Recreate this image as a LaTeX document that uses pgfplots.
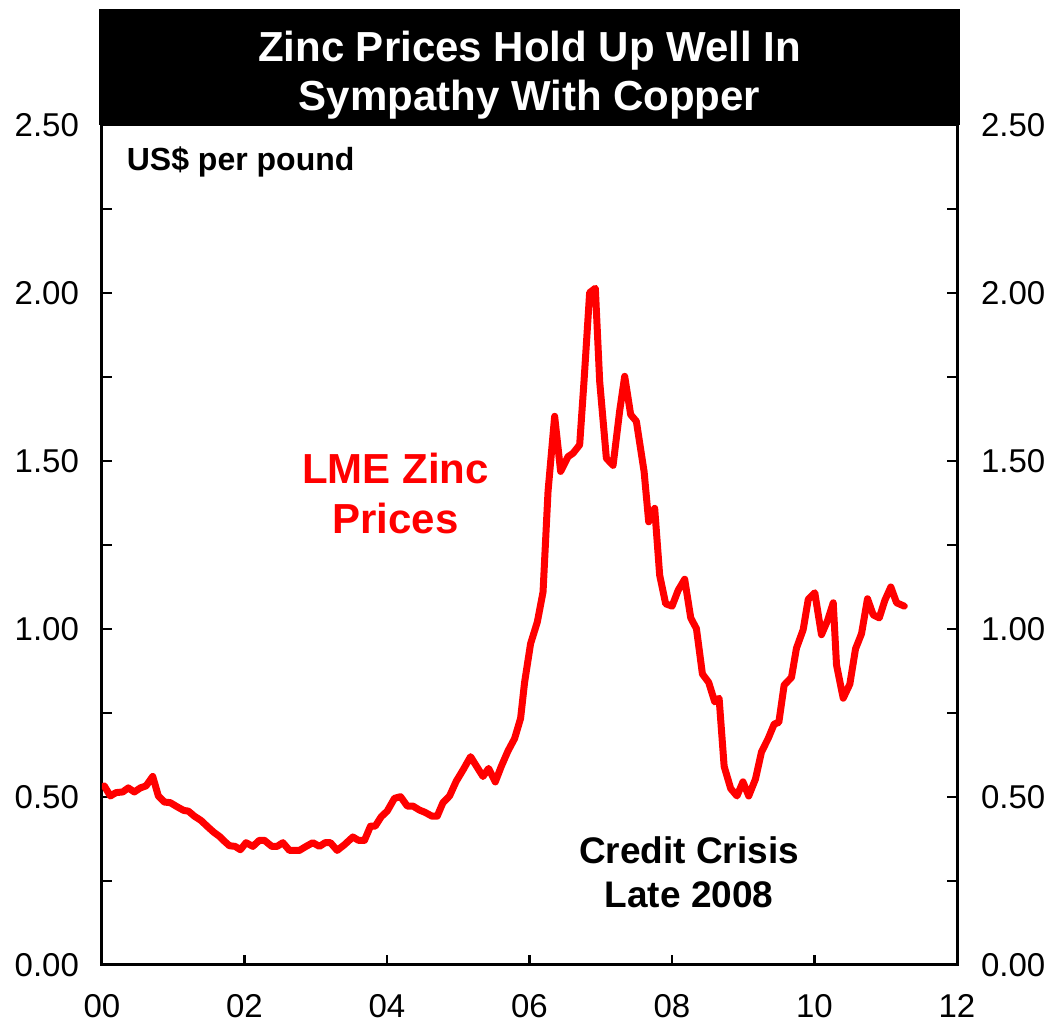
\documentclass[border=0pt]{standalone}
\usepackage{pgfplots}
\pgfplotsset{compat=1.18}
\usetikzlibrary{calc}
\usepackage{fontspec}
\setmainfont{Liberation Sans}
\definecolor{zincred}{RGB}{255,0,0}
\pgfplotstableread{
x y
0.032 0.533
0.117 0.503
0.197 0.513
0.291 0.515
0.369 0.527
0.454 0.515
0.538 0.527
0.618 0.533
0.712 0.561
0.791 0.503
0.875 0.485
0.959 0.483
1.053 0.471
1.147 0.460
1.212 0.458
1.296 0.443
1.390 0.430
1.485 0.411
1.569 0.395
1.647 0.383
1.709 0.370
1.788 0.355
1.868 0.353
1.942 0.343
2.022 0.364
2.117 0.353
2.209 0.371
2.279 0.371
2.383 0.353
2.458 0.353
2.538 0.364
2.631 0.341
2.771 0.341
2.865 0.353
2.959 0.364
3.052 0.353
3.132 0.364
3.206 0.364
3.301 0.341
3.403 0.358
3.521 0.381
3.600 0.371
3.684 0.371
3.768 0.413
3.834 0.413
3.918 0.441
4.003 0.458
4.105 0.496
4.190 0.501
4.284 0.473
4.364 0.473
4.456 0.461
4.527 0.455
4.631 0.443
4.705 0.443
4.785 0.483
4.878 0.503
4.972 0.547
5.066 0.580
5.173 0.620
5.267 0.588
5.347 0.561
5.426 0.585
5.520 0.545
5.604 0.591
5.698 0.637
5.791 0.674
5.875 0.734
5.931 0.841
6.015 0.956
6.110 1.021
6.190 1.110
6.260 1.409
6.353 1.633
6.437 1.469
6.541 1.513
6.611 1.523
6.704 1.548
6.765 1.737
6.844 2.001
6.924 2.014
6.985 1.737
7.079 1.508
7.173 1.487
7.265 1.648
7.336 1.752
7.420 1.638
7.500 1.618
7.608 1.469
7.673 1.319
7.757 1.359
7.827 1.160
7.911 1.075
8.001 1.068
8.086 1.115
8.178 1.148
8.263 1.033
8.343 1.001
8.427 0.866
8.515 0.841
8.600 0.783
8.661 0.794
8.732 0.591
8.824 0.525
8.912 0.503
8.996 0.545
9.077 0.503
9.171 0.553
9.256 0.634
9.350 0.674
9.434 0.717
9.499 0.722
9.574 0.833
9.677 0.856
9.747 0.943
9.841 0.998
9.912 1.088
10.004 1.108
10.098 0.983
10.183 1.025
10.263 1.078
10.309 0.893
10.403 0.794
10.496 0.836
10.576 0.941
10.660 0.986
10.744 1.090
10.824 1.042
10.909 1.033
10.987 1.085
11.071 1.125
11.152 1.078
11.260 1.068
}\zinc
\begin{document}
\begin{tikzpicture}
\pgfplotsset{
  common/.style={
    scale only axis, width=427.5pt, height=420pt,
    xmin=0, xmax=12, ymin=0, ymax=2.5,
    ytick={0,0.5,1,1.5,2,2.5},
    minor ytick={0.25,0.75,1.25,1.75,2.25},
    major tick length=5pt, minor tick length=5pt,
    tick style={black, line width=1.2pt},
    axis line style={black, line width=1.5pt},
    tick align=inside,
    yticklabel style={/pgf/number format/fixed, /pgf/number format/fixed zerofill, /pgf/number format/precision=2, /pgf/number format/assume math mode=true},
    ticklabel style={font=\fontsize{16.5}{16.5}\selectfont},
  }
}
\begin{axis}[common, name=ax,
  xtick={0,2,4,6,8,10,12},
  xticklabels={00,02,04,06,08,10,12},
  xtick pos=bottom, ytick pos=left,
  xticklabel style={yshift=-11pt},
  yticklabel style={xshift=-8pt},
]
\addplot[zincred, line width=3.5pt, line join=round, line cap=round] table[x=x,y=y]{\zinc};
\node[anchor=west, font=\bfseries\fontsize{16}{16}\selectfont] at (axis cs:0.25,2.39) {US\$ per pound};
\node[align=center, text=zincred, font=\bfseries\fontsize{21}{25}\selectfont] at (axis cs:4.12,1.404) {LME Zinc\\Prices};
\node[align=center, font=\bfseries\fontsize{18.5}{22}\selectfont] at (axis cs:8.24,0.275) {Credit Crisis\\Late 2008};
\end{axis}
\begin{axis}[common,
  axis x line=none, axis y line*=right,
  ytick pos=right, yticklabel pos=right,
  yticklabel style={xshift=8.5pt},
]
\end{axis}
\fill[black] ([xshift=-1.5pt]ax.north west) rectangle ([xshift=1.5pt,yshift=58pt]ax.north east);
\node[text=white, align=center, font=\bfseries\fontsize{21}{24.5}\selectfont] at ([yshift=25pt]$(ax.north west)!0.5!(ax.north east)$) {Zinc Prices Hold Up Well In\\Sympathy With Copper};
\pgfresetboundingbox
\path ([xshift=-51pt,yshift=-30.5pt]ax.south west) rectangle ([xshift=47pt,yshift=62.5pt]ax.north east);
\end{tikzpicture}
\end{document}
